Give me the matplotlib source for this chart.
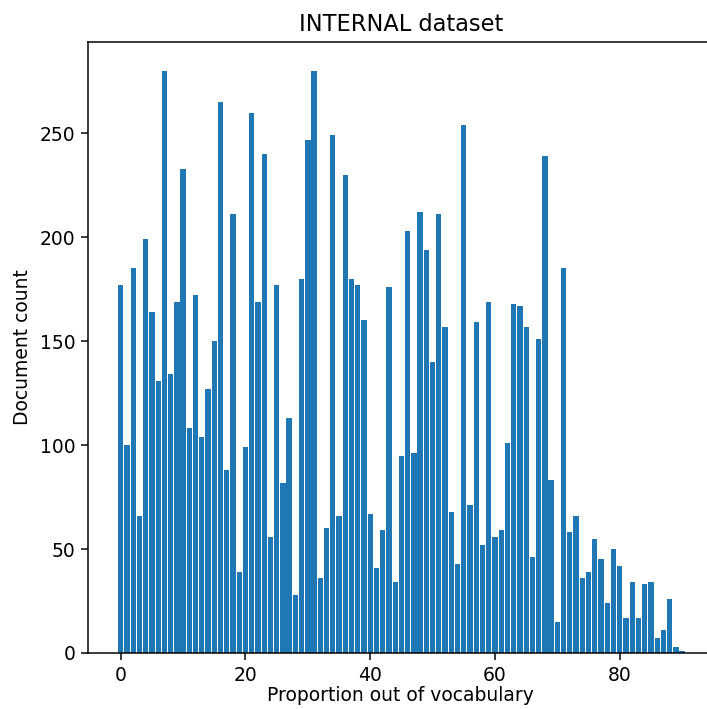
import numpy as np
import matplotlib
matplotlib.use("Agg")
import matplotlib.pyplot as plt

# documents per proportion bucket (0..90)
proportion = list(range(91))
doc_count = [
    177, 100, 185, 66, 199, 164, 131, 280, 134, 169,
    233, 108, 172, 104, 127, 150, 265, 88, 211, 39,
    99, 260, 169, 240, 56, 177, 82, 113, 28, 180,
    247, 280, 36, 60, 249, 66, 230, 180, 177, 160,
    67, 41, 59, 176, 34, 95, 203, 96, 212, 194,
    140, 211, 157, 68, 43, 254, 71, 159, 52, 169,
    56, 59, 101, 168, 167, 157, 46, 151, 239, 83,
    15, 185, 58, 66, 36, 39, 55, 45, 24, 50,
    42, 17, 34, 17, 33, 34, 7, 11, 26, 3,
    1,
]

DPI = 135
fig = plt.figure(figsize=(707 / DPI, 709 / DPI), dpi=DPI)
ax = fig.add_axes([0.1249, 0.079, 0.884, 0.862])

ax.bar(proportion, doc_count, width=0.85, color="#1f77b4")
ax.set_xlim(-5.2, 95.0)

ax.set_title("INTERNAL dataset")
ax.set_xlabel("Proportion out of vocabulary", labelpad=0.5)
ax.set_ylabel("Document count")

fig.savefig("out.png", dpi=DPI)
